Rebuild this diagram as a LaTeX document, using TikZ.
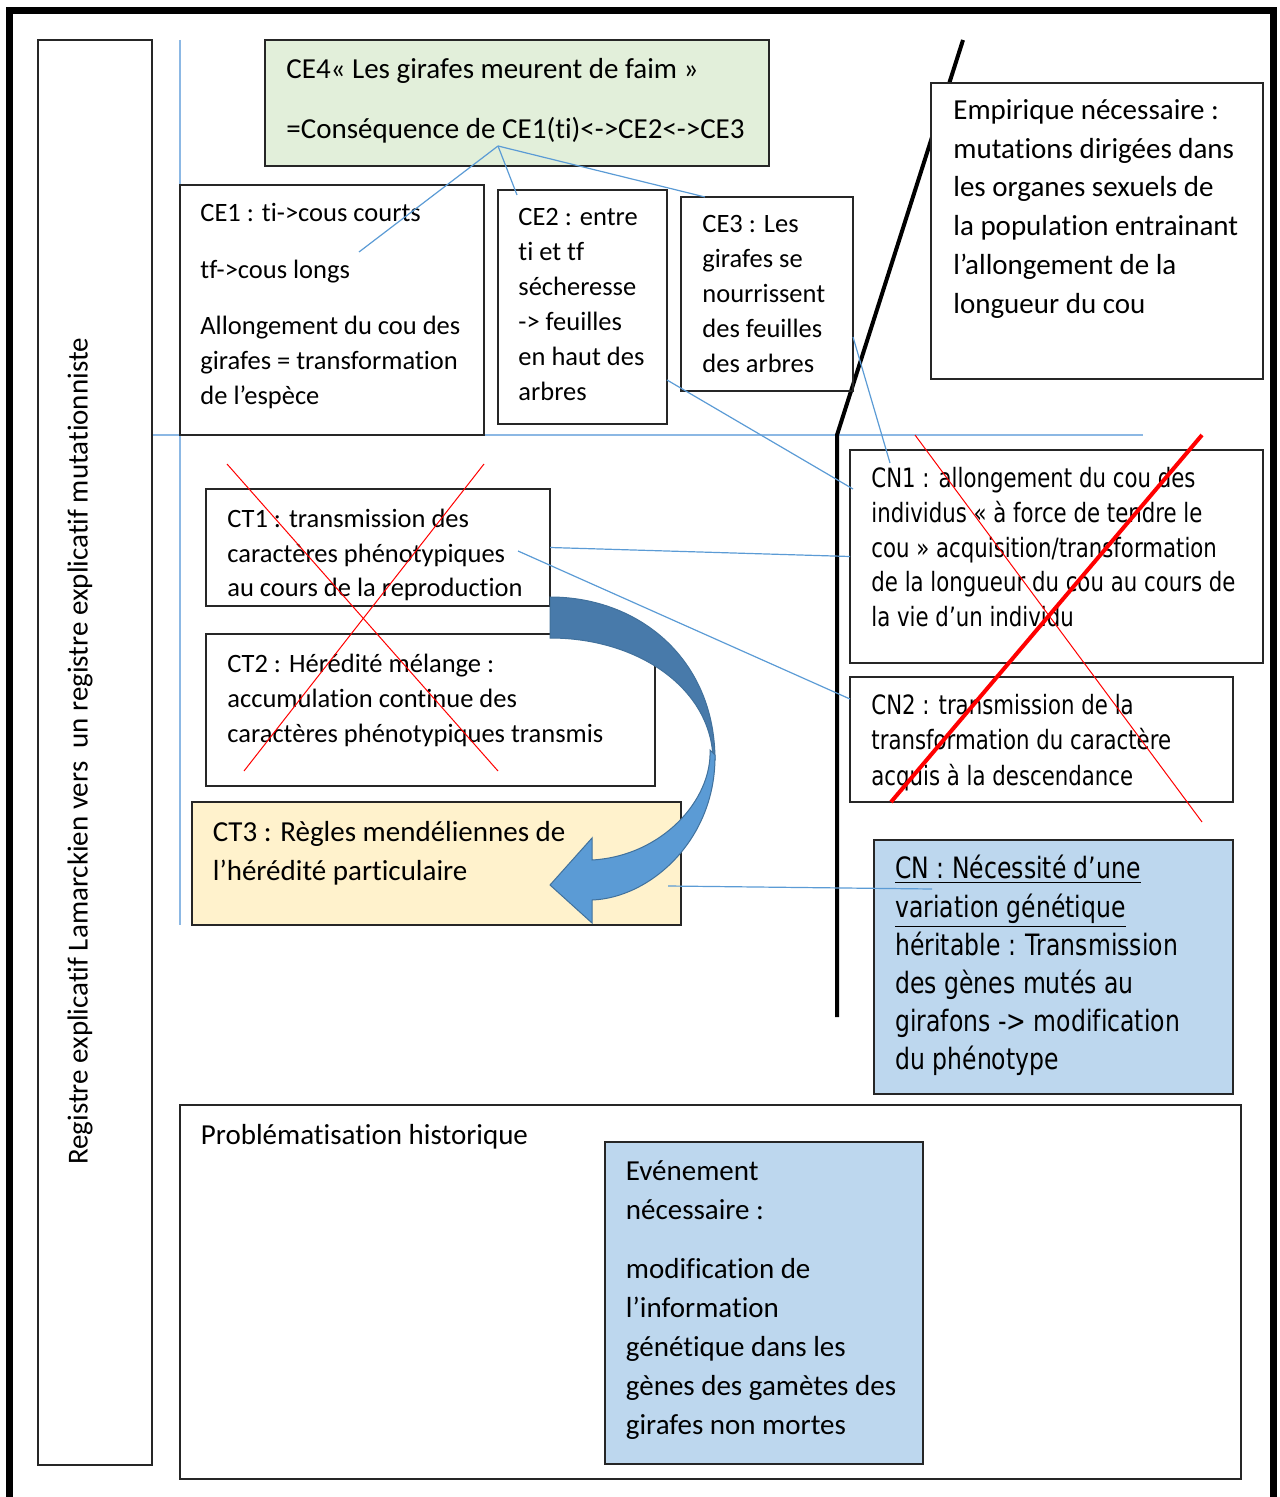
\documentclass[tikz,border=0pt]{standalone}
\usepackage{fontspec}
\setmainfont[Ligatures=NoCommon]{Carlito}
\newfontfamily\cnfont[FakeStretch=0.8,Ligatures=NoCommon]{DejaVu Sans}
\usetikzlibrary{positioning}

\definecolor{linkblue}{RGB}{91,155,213}
\definecolor{guideblue}{RGB}{140,184,228}
\definecolor{cegreen}{RGB}{226,239,218}
\definecolor{ctyellow}{RGB}{255,242,204}
\definecolor{cnblue}{RGB}{189,215,238}
\definecolor{arrowdark}{RGB}{72,122,170}
\definecolor{arrowlight}{RGB}{91,155,213}
\definecolor{arrowline}{RGB}{65,113,156}

\newcommand{\topline}{\rule{0pt}{12pt}}

\begin{document}
\begin{tikzpicture}[x=0.5pt,y=-0.5pt]
    \tikzset{block/.style= {draw=black!85, rectangle
    , line width=0.75pt
    , inner sep=0pt, outer sep=0pt
    , anchor=north west
      }
    , txt/.style= {anchor=north west, inner sep=0pt, align=left
    , font=\fontsize{13.25}{17.5}\selectfont
      }
    , bigtxt/.style= {txt, font=\fontsize{14.5}{19.5}\selectfont}
    , cntxt/.style= {txt, font=\cnfont\fontsize{13.3}{17.5}\selectfont}
    , link/.style= {draw=linkblue, line width=0.6pt}
    , guide/.style= {draw=guideblue, line width=1pt}
    , divider/.style= {draw=black, line width=2pt}
    , cross/.style= {draw=red, line width=0.5pt}
    }

\useasboundingbox (0,0) rectangle (1279,1497);

% outer frame, open at the bottom
\draw[line width=3.5pt] (9,1497) -- (9,10.5) -- (1273,10.5) -- (1273,1497);

% guide lines and divider
\coordinate (gtop) at (180,40);
\coordinate (gbot) at (180,925);
\coordinate (gleft) at (152,435);
\coordinate (gright) at (1143,435);
\draw[guide] (gtop) -- (gbot);
\draw[guide] (gleft) -- (gright);

\coordinate (dtop) at (963,40);
\coordinate (dbend) at (837,435);
\coordinate (dbot) at (837,1017);
\draw[divider] (dtop) -- (dbend) -- (dbot);

% boxes
\node [block, minimum width=57pt, minimum height=712.5pt] (reg) at (38,40) {};
\node [block, fill=cegreen, minimum width=252pt, minimum height=63pt] (ce4) at (265,40) {};
\node [block, minimum width=152pt, minimum height=125pt] (ce1) at (180,185) {};
\node [block, minimum width=84.5pt, minimum height=117pt] (ce2) at (498,190) {};
\node [block, minimum width=86pt, minimum height=97pt] (ce3) at (681,197) {};
\node [block, fill=white, minimum width=166pt, minimum height=148pt] (emp) at (931,83) {};
\node [block, minimum width=172pt, minimum height=58.5pt] (ct1) at (206,489) {};
\node [block, minimum width=224.5pt, minimum height=76pt] (ct2) at (206,634) {};
\node [block, fill=ctyellow, minimum width=244.5pt, minimum height=61.5pt] (ct3) at (192,802) {};
\node [block, minimum width=206.5pt, minimum height=106.5pt] (cn1) at (850,450) {};
\node [block, minimum width=191.5pt, minimum height=62.5pt] (cn2) at (850,677) {};
\node [block, fill=cnblue, minimum width=179.5pt, minimum height=127pt] (cn) at (874,840) {};
\node [block, minimum width=530.5pt, minimum height=187pt] (prob) at (180,1105) {};
\node [block, fill=cnblue, minimum width=159pt, minimum height=161pt] (evt) at (605,1142) {};

% texts
\node [rotate=90, anchor=base, inner sep=0pt, font=\fontsize{14.5}{19.5}\selectfont] (regtext) at (87.5,751.5)
  {Registre explicatif Lamarckien vers\ \ un registre explicatif mutationniste};
\node [bigtxt] (ce4text) at (286,54) {\topline CE4« Les girafes meurent de faim »\\[10.5pt]
  =Conséquence de CE1(ti)<->CE2<->CE3};
\node [txt] (ce1text) at (200,197) {\topline CE1 : ti->cous courts\\[11pt]
  tf->cous longs\\[10.5pt]
  Allongement du cou des\\ girafes = transformation\\ de l’espèce};
\node [txt] (ce2text) at (518,201) {\topline CE2 : entre\\ ti et tf\\ sécheresse\\ -> feuilles\\ en haut des\\ arbres};
\node [txt] (ce3text) at (702,208) {\topline CE3 : Les\\ girafes se\\ nourrissent\\ des feuilles\\ des arbres};
\node [bigtxt, font=\fontsize{14.5}{19.4}\selectfont] (emptext) at (953,95) {\topline Empirique nécessaire :\\
  mutations dirigées dans\\ les organes sexuels de\\ la population entrainant\\
  l’allongement de la\\ longueur du cou};
\node [txt, font=\fontsize{13.25}{17.3}\selectfont] (ct1text) at (227,503) {\topline CT1 : transmission des\\
  caractères phénotypiques\\ au cours de la reproduction};
\node [txt] (ct2text) at (227,648) {\topline CT2 : Hérédité mélange :\\
  accumulation continue des\\ caractères phénotypiques transmis};
\node [bigtxt] (ct3text) at (212.5,817) {\topline CT3 : Règles mendéliennes de\\ l’hérédité particulaire};
\node [cntxt, font=\cnfont\fontsize{13.3}{17.4}\selectfont] (cn1text) at (871,463) {\topline CN1 : allongement du cou des\\
  individus « à force de tendre le\\ cou » acquisition/transformation\\
  de la longueur du cou au cours de\\ la vie d’un individu};
\node [cntxt, font=\cnfont\fontsize{13.3}{17.7}\selectfont] (cn2text) at (871,690) {\topline CN2 : transmission de la\\
  transformation du caractère\\ acquis à la descendance};
\node [cntxt, font=\cnfont\fontsize{14.7}{19.1}\selectfont] (cntext) at (895,854.5) {\topline
  \underline{CN : Nécessité d’une}\\ \underline{variation génétique}\\
  héritable : Transmission\\ des gènes mutés au\\ girafons -> modification\\ du phénotype};
\node [bigtxt] (probtext) at (200.5,1120) {\topline Problématisation historique};
\node [bigtxt] (evttext) at (625.5,1156) {\topline Evénement\\ nécessaire :\\[10pt]
  modification de\\ l’information\\ génétique dans les\\ gènes des gamètes des\\ girafes non mortes};

% links
\coordinate (ce4 foot) at (498,146);
\coordinate (ce1 hit) at (359,252);
\coordinate (ce2 hit) at (517,195);
\coordinate (ce3 hit) at (705,197);
\coordinate (ce2 out) at (667,380);
\coordinate (cn1 in a) at (853,489);
\coordinate (ce3 out) at (853,337);
\coordinate (cn1 in b) at (890,463);
\coordinate (ct1 hit) at (518,551);
\coordinate (cn2 in) at (850,699);
\coordinate (ct3 hit) at (668,886);
\coordinate (cn hit) at (932,889);

\path[link] (ce4 foot) -- (ce1 hit);
\path[link] (ce4 foot) -- (ce2 hit);
\path[link] (ce4 foot) -- (ce3 hit);
\path[link] (ce2 out) -- (cn1 in a);
\path[link] (ce3 out) -- (cn1 in b);
\path[link] (ct1.east) -- (cn1.west);
\path[link] (ct1 hit) -- (cn2 in);
\path[link] (ct3 hit) -- (cn hit);

% crossed out
\coordinate (xa1) at (227,464);
\coordinate (xa2) at (498,771);
\coordinate (xb1) at (484,464);
\coordinate (xb2) at (244,771);
\draw[cross] (xa1) -- (xa2);
\draw[cross] (xb1) -- (xb2);

\coordinate (ya1) at (915,435);
\coordinate (ya2) at (1202,822);
\coordinate (yb1) at (1202,435);
\coordinate (yb2) at (891,802);
\draw[cross] (ya1) -- (ya2);
\draw[cross, line width=2pt] (yb1) -- (yb2);

% curved arrow from CT1 to CT3
\filldraw[fill=arrowdark, draw=arrowline, line width=0.5pt]
  (550,597) .. controls (640,597) and (715,660) .. (715,760)
  -- (713,760) .. controls (712,690) and (640,638) .. (550,638) -- cycle;
\filldraw[fill=arrowlight, draw=arrowline, line width=0.5pt]
  (715,755) .. controls (716,840) and (650,898) .. (592,900)
  -- (592,923) -- (550,885) -- (592,838) -- (592,860)
  .. controls (662,856) and (712,800) .. (710,750) -- cycle;
\end{tikzpicture}
\end{document}
